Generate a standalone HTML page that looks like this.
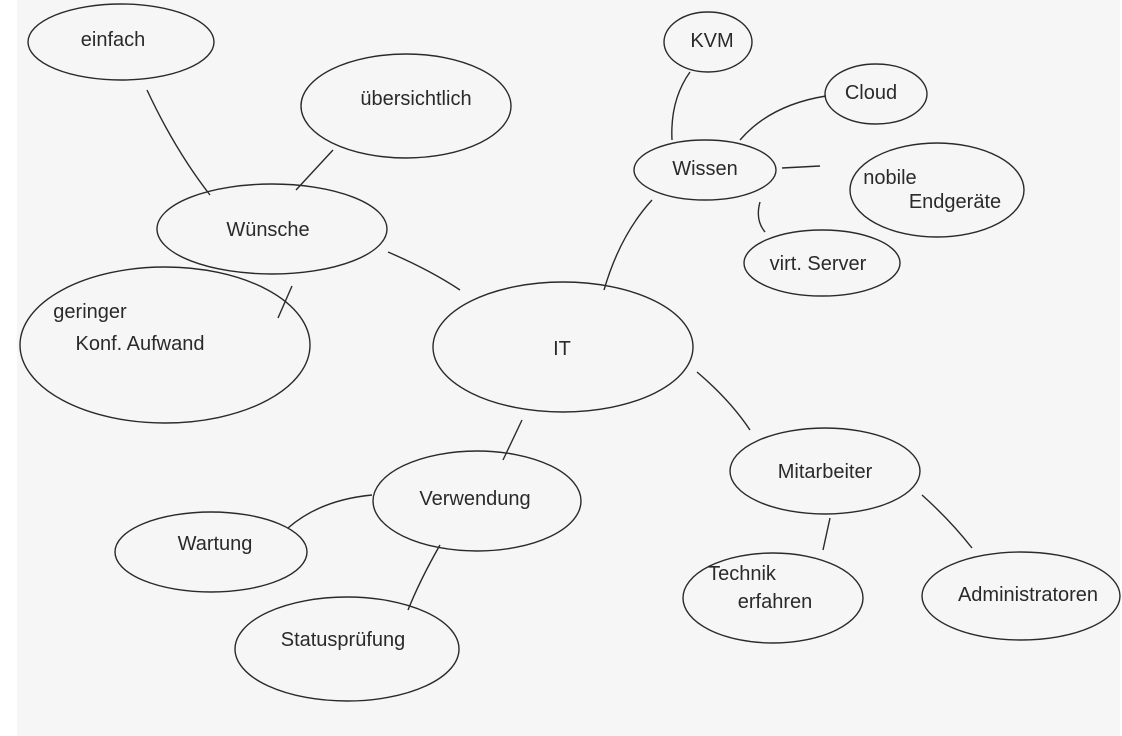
<!DOCTYPE html>
<html><head><meta charset="utf-8"><style>
html,body{margin:0;padding:0;background:#fff;}
svg{display:block}
text{font-family:"Liberation Sans",sans-serif;fill:#2a2a2a;font-size:20px;text-anchor:middle;}
</style></head><body>
<svg width="1122" height="736" viewBox="0 0 1122 736">
<rect x="17" y="0" width="1103" height="736" fill="#f6f6f6"/>
<g fill="none" stroke="#2a2a2a" stroke-width="1.4">
<ellipse cx="121" cy="42" rx="93" ry="38"/>
<ellipse cx="406" cy="106" rx="105" ry="52"/>
<ellipse cx="272" cy="229" rx="115" ry="45"/>
<ellipse cx="165" cy="345" rx="145" ry="78"/>
<ellipse cx="563" cy="347" rx="130" ry="65"/>
<ellipse cx="705" cy="170" rx="71" ry="30"/>
<ellipse cx="708" cy="42" rx="44" ry="30"/>
<ellipse cx="876" cy="94" rx="51" ry="30"/>
<ellipse cx="937" cy="190" rx="87" ry="47"/>
<ellipse cx="822" cy="263" rx="78" ry="33"/>
<ellipse cx="825" cy="471" rx="95" ry="43"/>
<ellipse cx="773" cy="598" rx="90" ry="45"/>
<ellipse cx="1021" cy="596" rx="99" ry="44"/>
<ellipse cx="477" cy="501" rx="104" ry="50"/>
<ellipse cx="211" cy="552" rx="96" ry="40"/>
<ellipse cx="347" cy="649" rx="112" ry="52"/>
<path d="M147 90 Q175 150 210 195"/>
<path d="M333 150 L296 190"/>
<path d="M292 286 L278 318"/>
<path d="M388 252 Q430 270 460 290"/>
<path d="M604 290 Q620 235 652 200"/>
<path d="M672 140 Q670 100 690 72"/>
<path d="M740 140 Q770 105 826 96"/>
<path d="M782 168 L820 166"/>
<path d="M760 202 Q755 220 765 232"/>
<path d="M697 372 Q730 400 750 430"/>
<path d="M830 518 L823 550"/>
<path d="M922 495 Q950 520 972 548"/>
<path d="M522 420 L503 460"/>
<path d="M372 495 Q320 500 288 528"/>
<path d="M440 545 Q420 580 408 610"/>
</g>
<text x="113" y="46">einfach</text>
<text x="416" y="105">übersichtlich</text>
<text x="268" y="236">Wünsche</text>
<text x="90" y="318">geringer</text>
<text x="140" y="350">Konf. Aufwand</text>
<text x="562" y="355" font-size="36">IT</text>
<text x="705" y="175">Wissen</text>
<text x="712" y="47">KVM</text>
<text x="871" y="99">Cloud</text>
<text x="890" y="184">nobile</text>
<text x="955" y="208">Endgeräte</text>
<text x="818" y="270">virt. Server</text>
<text x="825" y="478">Mitarbeiter</text>
<text x="742" y="580">Technik</text>
<text x="775" y="608">erfahren</text>
<text x="1028" y="601">Administratoren</text>
<text x="475" y="505">Verwendung</text>
<text x="215" y="550">Wartung</text>
<text x="343" y="646">Statusprüfung</text>
</svg>
</body></html>
